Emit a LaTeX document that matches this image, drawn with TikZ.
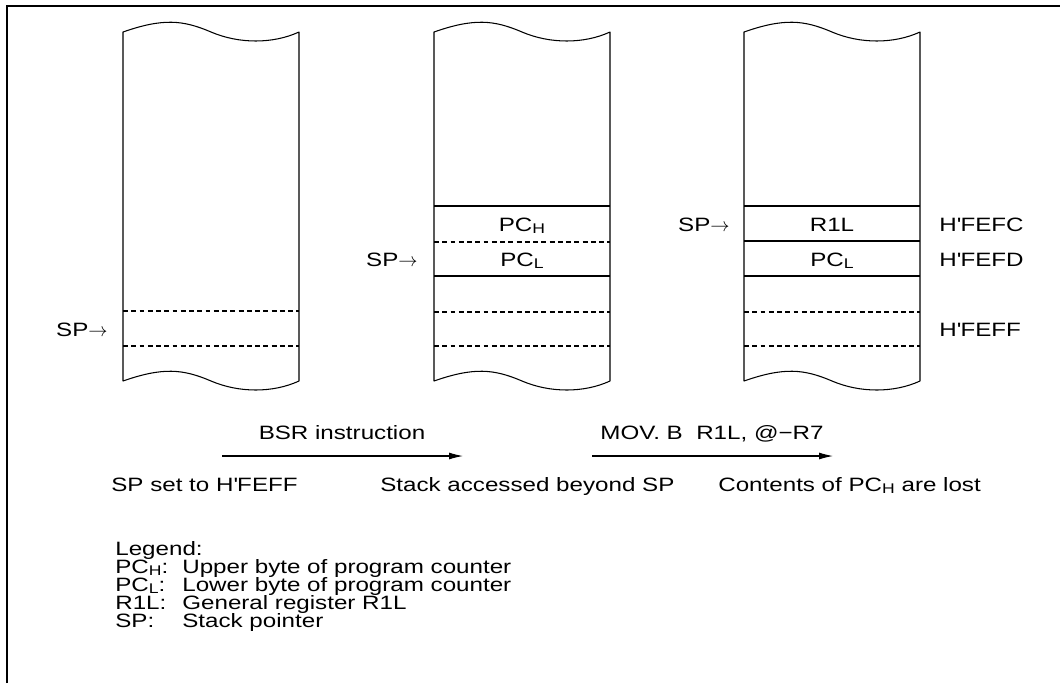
\documentclass[tikz,border=0pt]{standalone}
\usepackage{fontspec}
\setmainfont{Liberation Sans}[FakeStretch=1.25]
\usetikzlibrary{arrows.meta}

\newcommand{\lowidx}[1]{\raisebox{-0.2ex}{\footnotesize #1}}
\newcommand{\hexq}{H\textquotesingle}

\begin{document}
\begin{tikzpicture}[
    x=0.02cm, y=-0.02cm,
    font=\fontsize{11}{13.2}\selectfont,
    frame/.style={draw=black, line width=1.15pt},
    outline/.style={draw=black, line width=0.6pt, line join=round},
    solidsep/.style={draw=black, line width=0.6pt},
    dashsep/.style={draw=black, line width=0.6pt, dash pattern=on 2.8pt off 1.9pt},
    flow/.style={draw=black, line width=0.6pt, -{Latex[length=2.8mm,width=1.4mm]}},
    celltext/.style={anchor=base, inner sep=0pt},
    ptrlabel/.style={anchor=base east, inner sep=0pt},
    addrlabel/.style={anchor=base west, inner sep=0pt},
    note/.style={anchor=base west, inner sep=0pt},
  ]

  % Frame, open at the right and at the bottom.
  \draw[frame] (7,683) -- (7,6) -- (1060,6);

  % Stack areas with torn top and bottom edges.
  \draw[outline] (123,32) .. controls +(40,-14) and +(-28,-12) .. ++(88,0)
    .. controls +(28,12) and +(-26,12) .. ++(88,0) -- ++(0,349)
    .. controls +(-26,12) and +(28,12) .. ++(-88,0)
    .. controls +(-28,-12) and +(40,-14) .. ++(-88,0) -- cycle;
  \draw[outline] (434,32) .. controls +(40,-14) and +(-28,-12) .. ++(88,0)
    .. controls +(28,12) and +(-26,12) .. ++(88,0) -- ++(0,349)
    .. controls +(-26,12) and +(28,12) .. ++(-88,0)
    .. controls +(-28,-12) and +(40,-14) .. ++(-88,0) -- cycle;
  \draw[outline] (744,32) .. controls +(40,-14) and +(-28,-12) .. ++(88,0)
    .. controls +(28,12) and +(-26,12) .. ++(88,0) -- ++(0,349)
    .. controls +(-26,12) and +(28,12) .. ++(-88,0)
    .. controls +(-28,-12) and +(40,-14) .. ++(-88,0) -- cycle;

  % Initial state: only the word at H'FEFF is marked.
  \draw[dashsep] (123,311) -- (299,311);
  \draw[dashsep] (123,346) -- (299,346);

  % After BSR: PC pushed.
  \draw[solidsep] (434,206) -- (610,206);
  \draw[dashsep] (434,242) -- (610,242);
  \draw[solidsep] (434,276) -- (610,276);
  \draw[dashsep] (434,312) -- (610,312);
  \draw[dashsep] (434,346) -- (610,346);

  % After MOV.B: R1L overwrites the upper byte.
  \draw[solidsep] (744,206) -- (920,206);
  \draw[solidsep] (744,241) -- (920,241);
  \draw[solidsep] (744,276) -- (920,276);
  \draw[dashsep] (744,312) -- (920,312);
  \draw[dashsep] (744,346) -- (920,346);

  \node[ptrlabel] (spA) at (108,336) {SP$\rightarrow$};
  \node[ptrlabel] (spB) at (418,266) {SP$\rightarrow$};
  \node[ptrlabel] (spC) at (730,231) {SP$\rightarrow$};

  \node[celltext] (pchB) at (522,231) {PC\lowidx{H}};
  \node[celltext] (pclB) at (522,266) {PC\lowidx{L}};
  \node[celltext] (rlC) at (832,231) {R1L};
  \node[celltext] (pclC) at (832,266) {PC\lowidx{L}};

  \node[addrlabel] (fefc) at (939,231) {\hexq FEFC};
  \node[addrlabel] (fefd) at (939,266) {\hexq FEFD};
  \node[addrlabel] (feff) at (939,336) {\hexq FEFF};

  % Instructions between the states.
  \coordinate (bsrtail) at (222,456);
  \coordinate (bsrhead) at (463,456);
  \coordinate (movtail) at (592,456);
  \coordinate (movhead) at (833,456);
  \draw[flow] (bsrtail) -- (bsrhead);
  \draw[flow] (movtail) -- (movhead);
  \node[celltext] (bsr) at (342,439) {BSR instruction};
  \node[celltext] (mov) at (712,439) {MOV. B\ \ R1L, @−R7};

  \node[note] (stateA) at (111,491) {SP set to \hexq FEFF};
  \node[note] (stateB) at (380,491) {Stack accessed beyond SP};
  \node[note] (stateC) at (718,491) {Contents of PC\lowidx{H} are lost};

  % Legend.
  \node[note] (legend) at (115,555) {Legend:};
  \node[note] (keyH) at (115,573) {PC\lowidx{H}:};
  \node[note] (keyL) at (115,591) {PC\lowidx{L}:};
  \node[note] (keyR) at (115,609) {R1L:};
  \node[note] (keyS) at (115,627) {SP:};
  \node[note] (descH) at (182,573) {Upper byte of program counter};
  \node[note] (descL) at (182,591) {Lower byte of program counter};
  \node[note] (descR) at (182,609) {General register R1L};
  \node[note] (descS) at (182,627) {Stack pointer};

  \pgfresetboundingbox
  \path[use as bounding box] (0,0) rectangle (1060,683);
\end{tikzpicture}
\end{document}
